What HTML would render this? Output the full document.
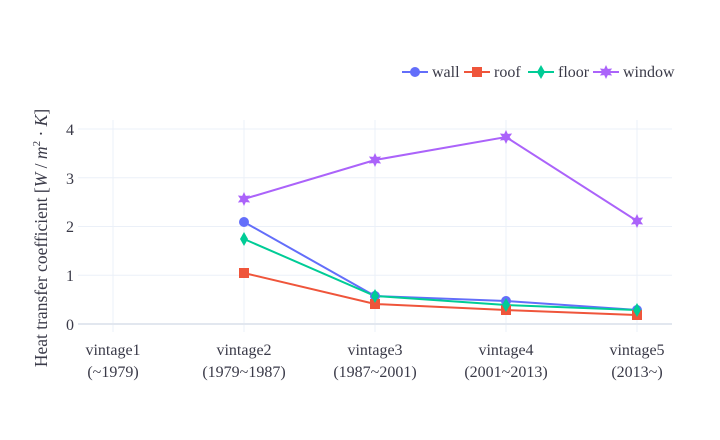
<!DOCTYPE html><html><head><style>body{margin:0;background:#fff}svg{display:block}text{font-family:"Liberation Serif",serif;fill:#3a3a48}</style></head><body>
<svg width="720" height="440" viewBox="0 0 720 440" xmlns="http://www.w3.org/2000/svg">
<defs>
<symbol id="star" viewBox="-7 -7 14 14" overflow="visible"><polygon points="0,-7 1.8,-3.1 6.1,-3.5 3.6,0 6.1,3.5 1.8,3.1 0,7 -1.8,3.1 -6.1,3.5 -3.6,0 -6.1,-3.5 -1.8,-3.1"/></symbol>
</defs>
<g stroke="#ebf0f8" stroke-width="1">
<line x1="113" y1="120" x2="113" y2="332"/><line x1="244" y1="120" x2="244" y2="332"/><line x1="375" y1="120" x2="375" y2="332"/><line x1="506" y1="120" x2="506" y2="332"/><line x1="637" y1="120" x2="637" y2="332"/>
<line x1="78" y1="275.2" x2="672" y2="275.2"/><line x1="78" y1="226.5" x2="672" y2="226.5"/><line x1="78" y1="177.8" x2="672" y2="177.8"/><line x1="78" y1="129" x2="672" y2="129"/>
<line x1="78" y1="324" x2="672" y2="324" stroke="#e2e7ef" stroke-width="2"/>
</g>
<g font-size="16" text-anchor="end">
<text x="74" y="330">0</text><text x="74" y="281">1</text><text x="74" y="232">2</text><text x="74" y="184">3</text><text x="74" y="135">4</text>
</g>
<g font-size="16" text-anchor="middle">
<text x="113" y="355">vintage1</text><text x="113" y="377">(~1979)</text>
<text x="244" y="355">vintage2</text><text x="244" y="377">(1979~1987)</text>
<text x="375" y="355">vintage3</text><text x="375" y="377">(1987~2001)</text>
<text x="506" y="355">vintage4</text><text x="506" y="377">(2001~2013)</text>
<text x="637" y="355">vintage5</text><text x="637" y="377">(2013~)</text>
</g>
<text transform="translate(47,238) rotate(-90)" font-size="17.5" text-anchor="middle">Heat transfer coefficient [<tspan font-style="italic">W</tspan> / <tspan font-style="italic">m</tspan><tspan font-size="11" dy="-7">2</tspan><tspan dy="7"> · </tspan><tspan font-style="italic">K</tspan>]</text>
<g fill="none" stroke-width="2">
<polyline stroke="#ab63fa" points="244,199 375,160 506,137 637,221"/>
<polyline stroke="#636efa" points="244,222 375,296 506,301 637,310"/>
<polyline stroke="#00cc96" points="244,239 375,296 506,305 637,310"/>
<polyline stroke="#ef553b" points="244,273 375,304 506,310 637,315"/>
</g>
<g fill="#636efa"><circle cx="244" cy="222" r="5"/><circle cx="375" cy="296" r="5"/><circle cx="506" cy="301" r="5"/><circle cx="637" cy="310" r="5"/></g>
<g fill="#ef553b"><rect x="239" y="268" width="10" height="10"/><rect x="370" y="299" width="10" height="10"/><rect x="501" y="305" width="10" height="10"/><rect x="632" y="310" width="10" height="10"/></g>
<g fill="#00cc96"><polygon points="244,232 248,239 244,246 240,239"/><polygon points="375,289 379,296 375,303 371,296"/><polygon points="506,298 510,305 506,312 502,305"/><polygon points="637,303 641,310 637,317 633,310"/></g>
<g fill="#ab63fa"><use href="#star" x="237" y="192" width="14" height="14"/><use href="#star" x="368" y="153" width="14" height="14"/><use href="#star" x="499" y="130" width="14" height="14"/><use href="#star" x="630" y="214" width="14" height="14"/></g>
<g font-size="16">
<line x1="402" y1="72" x2="428" y2="72" stroke="#636efa" stroke-width="2"/><circle cx="415" cy="72" r="5" fill="#636efa"/><text x="432" y="77">wall</text>
<line x1="464" y1="72" x2="490" y2="72" stroke="#ef553b" stroke-width="2"/><rect x="472" y="67" width="10" height="10" fill="#ef553b"/><text x="494" y="77">roof</text>
<line x1="528" y1="72" x2="554" y2="72" stroke="#00cc96" stroke-width="2"/><polygon points="541,65 545,72 541,79 537,72" fill="#00cc96"/><text x="558" y="77">floor</text>
<line x1="593" y1="72" x2="619" y2="72" stroke="#ab63fa" stroke-width="2"/><use href="#star" x="599" y="65" width="14" height="14" fill="#ab63fa"/><text x="623" y="77">window</text>
</g>
</svg>
</body></html>
